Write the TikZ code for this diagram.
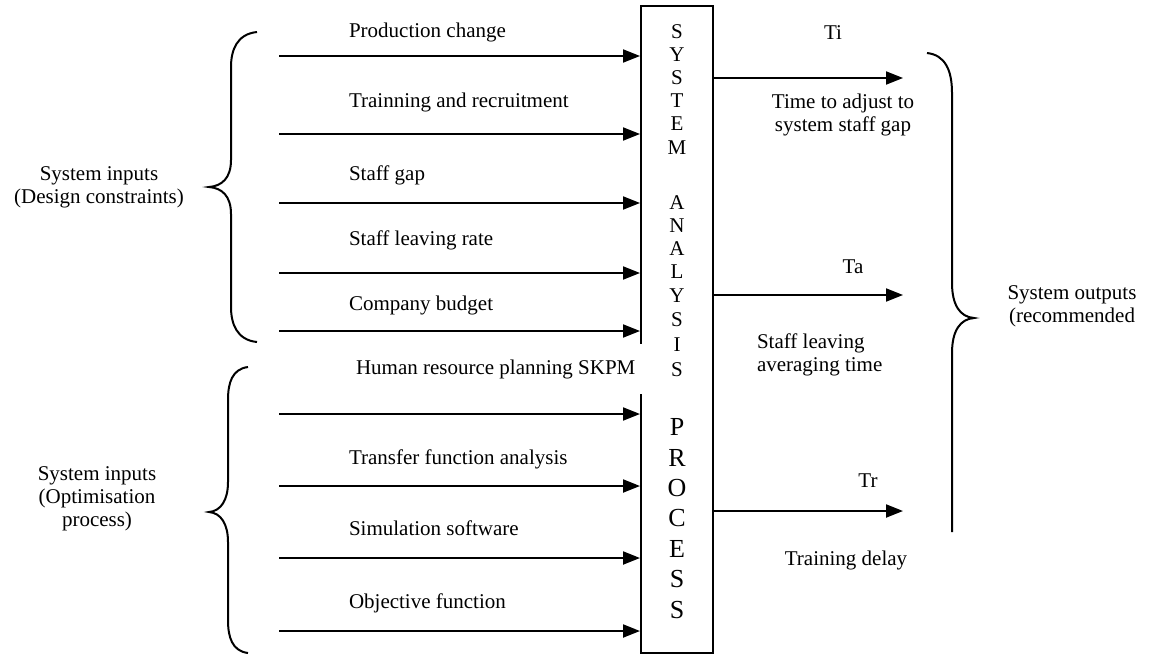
\documentclass[tikz,border=0pt]{standalone}
\usepackage{fontspec}
\setmainfont{Liberation Serif}
\usetikzlibrary{arrows.meta}

\begin{document}
\begin{tikzpicture}
[
  x=0.5pt, y=-0.5pt,
  >={Triangle[length=8.5pt,width=6.5pt]},
  line width=1pt,
  lab/.style = {font=\fontsize{10.5}{11.5}\selectfont, inner sep=0pt},
  boxletter/.style = {font=\fontsize{10.5}{10.5}\selectfont, inner sep=0pt},
  bigletter/.style = {font=\fontsize{13}{13}\selectfont, inner sep=0pt},
]
\useasboundingbox (0,0) rectangle (1154,654);

% the analysis box
\node (SAP) at (677,329.5) [draw, minimum width=36pt, minimum height=323.5pt, inner sep=0pt] {};

\foreach \l/\y [count=\i] in {S/32,Y/55,S/78,T/101,E/124,M/148,A/203,N/226,A/249,L/272,Y/296,S/320,I/345,S/370}
  \node (sa\i) at (677,\y) [boxletter] {\l};
\foreach \l/\y [count=\i] in {P/427,R/458,O/488,C/518,E/549,S/579,S/610}
  \node (pr\i) at (677,\y) [bigletter] {\l};

% inputs
\foreach \y [count=\i] in {56,134,203,273,331,414,486,558,631}
{
  \coordinate (in\i) at (279,\y);
  \draw[->] (in\i) -- (in\i -| SAP.west);
}
\foreach \b/\t [count=\i] in {37/Production change,107/Trainning and recruitment,180/Staff gap,245/Staff leaving rate,310/Company budget,464/Transfer function analysis,535/Simulation software,608/Objective function}
  \node (lin\i) at (348,\b) [lab, anchor=base west] {\t};
\node (lhr) at (345,374) [lab, anchor=base west, fill=white, inner xsep=5pt, minimum height=25pt] {Human resource planning SKPM};

% outputs
\foreach \y [count=\i] in {78,295,511}
{
  \coordinate (out\i) at (903,\y);
  \draw[->] (out\i -| SAP.east) -- (out\i);
}
\node (Ti) at (833,39) [lab, anchor=base] {Ti};
\node (Ta) at (853,273) [lab, anchor=base] {Ta};
\node (Tr) at (868,487) [lab, anchor=base] {Tr};
\node (lti) at (843,115) [lab, align=center] {Time to adjust to\\system staff gap};
\node (lta) at (756,355) [lab, align=left, anchor=west] {Staff leaving\\averaging time};
\node (ltr) at (846,560) [lab] {Training delay};

% braces
\draw (257,32) .. controls (237,34) and (231,50) .. (231,67) -- (231,160)
  .. controls (231,178) and (222,186) .. (209,187)
  .. controls (222,188) and (231,196) .. (231,214) -- (231,307)
  .. controls (231,324) and (237,340) .. (257,342);
\draw (248,367) .. controls (232,369) and (228,383) .. (228,400) -- (228,482)
  .. controls (228,500) and (221,511) .. (209,512)
  .. controls (221,513) and (228,524) .. (228,542) -- (228,620)
  .. controls (228,637) and (232,651) .. (248,653);
\draw (927,53) .. controls (945,55) and (952,70) .. (952,93) -- (952,283)
  .. controls (952,305) and (960,317) .. (974,318)
  .. controls (960,319) and (952,331) .. (952,353) -- (952,532);

\node (sin) at (99,187) [lab, align=center] {System inputs\\(Design constraints)};
\node (sop) at (97,499) [lab, align=center] {System inputs\\(Optimisation\\process)};
\node (sout) at (1072,306) [lab, align=center] {System outputs\\(recommended};

\end{tikzpicture}
\end{document}
